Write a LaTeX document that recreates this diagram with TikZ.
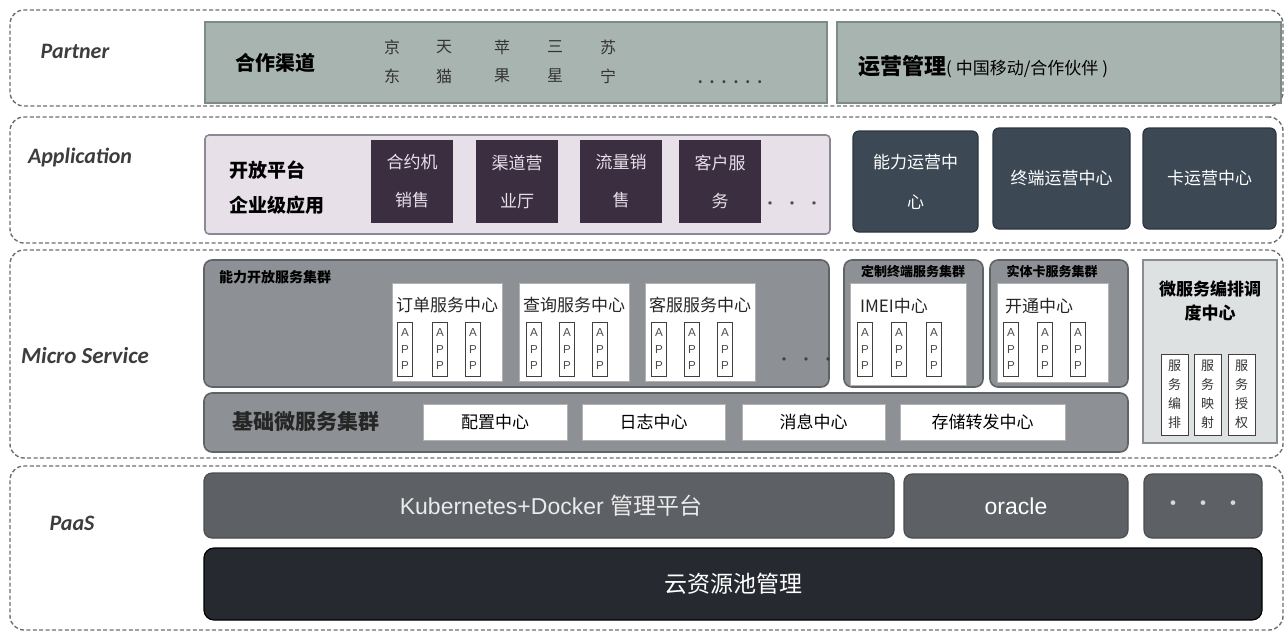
\documentclass[tikz,border=0pt]{standalone}
\usepackage{fontspec}
\setmainfont{Noto Sans CJK SC}
\newfontfamily\labfont{Carlito}
\newfontfamily\latfont{Liberation Sans}
\definecolor{pfill}{HTML}{A8B4B0}
\definecolor{pborder}{HTML}{7E8A86}
\definecolor{afill}{HTML}{E7E0E9}
\definecolor{abord}{HTML}{8D8893}
\definecolor{purc}{HTML}{3B2E40}
\definecolor{purtext}{HTML}{E8E0EA}
\definecolor{slatec}{HTML}{3C4853}
\definecolor{slated}{HTML}{2C3640}
\definecolor{mgc}{HTML}{8D9095}
\definecolor{mgd}{HTML}{5F6267}
\definecolor{orchc}{HTML}{DEE1E2}
\definecolor{orchd}{HTML}{8A8D90}
\definecolor{k8sc}{HTML}{5D6064}
\definecolor{k8sd}{HTML}{4A4D50}
\definecolor{cloudc}{HTML}{262A30}
\definecolor{bandc}{HTML}{6E6E6E}
\definecolor{labc}{HTML}{3D3D3D}
\newcommand\fs[2]{\fontsize{#1}{#2}\selectfont}
\newcommand\bx[7]{\node[#6,minimum width={((#4)-(#2))*0.5pt},minimum height={((#5)-(#3))*0.5pt}] (#1) at ({((#2)+(#4))/2},{((#3)+(#5))/2}) {#7};}
\begin{document}
\begin{tikzpicture}[x=0.5pt,y=-0.5pt,
  base/.style={inner sep=0pt,outer sep=0pt,align=center},
  band/.style={base,draw=bandc,line width=0.7pt,dash pattern=on 2pt off 1.2pt,rounded corners=7pt},
  lab/.style={font=\labfont\bfseries\itshape\fs{11}{13},text=labc},
  pbox/.style={base,draw=pborder,fill=pfill,line width=0.8pt},
  apink/.style={base,draw=abord,fill=afill,line width=0.8pt,rounded corners=2pt},
  purp/.style={base,fill=purc,text=purtext,font=\fs{8.5}{19}},
  slate/.style={base,fill=slatec,draw=slated,line width=0.6pt,rounded corners=3pt,text=white,font=\fs{8.5}{20}},
  mgrey/.style={base,fill=mgc,draw=mgd,line width=0.8pt,rounded corners=4pt},
  wbox/.style={base,fill=white,draw=gray!60,line width=0.4pt},
  appbox/.style={base,fill=white,draw=black!75,line width=0.5pt,font=\latfont\fs{5.8}{8.3},text=black!70},
  vbox/.style={base,fill=white,draw=black!75,line width=0.5pt,font=\fs{6.5}{9.5},text=black!80},
  orch/.style={base,fill=orchc,draw=orchd,line width=0.8pt},
  k8s/.style={base,fill=k8sc,draw=k8sd,line width=0.6pt,rounded corners=4pt,text=white},
  cloud/.style={base,fill=cloudc,draw=black,line width=0.6pt,rounded corners=5pt,text=white},
  ttl/.style={font=\fs{8.5}{10},text=black!85},
  ctitle/.style={font=\bfseries\fs{6.5}{8},text=black}
]
\useasboundingbox (0,0) rectangle (1288,633);

% ---------------- Partner
\bx{bandP}{10}{10}{1283}{106}{band}{}
\node[lab] (labP) at (75,51) {Partner};
\bx{chan}{205}{22}{827}{103}{pbox}{}
\node[anchor=west,font=\bfseries\fs{10}{12}] (chanT) at (228,63) {合作渠道};
\foreach \n/\x/\a/\b in {jd/392/京/东,tm/444/天/猫,ap/502/苹/果,ss/555/三/星,sn/608/苏/宁}{
  \node[font=\fs{8}{10},text=black!80] (\n1) at (\x,47) {\a};
  \node[font=\fs{8}{10},text=black!80] (\n2) at (\x,76) {\b};
}
\node[font=\bfseries\fs{7}{8},text=black!75] (chdots) at (730,82) {.\hspace{3.5pt}.\hspace{3.5pt}.\hspace{3.5pt}.\hspace{3.5pt}.\hspace{3.5pt}.};
\bx{ops}{837}{22}{1281}{103}{pbox}{}
\node[anchor=west] (opsT) at (851,67) {\bfseries\fs{11}{13}运营管理\mdseries\fs{8.5}{10}(\hspace{2pt}中国移动/合作伙伴\hspace{2pt})};

% ---------------- Application
\bx{bandA}{10}{117}{1283}{243}{band}{}
\node[lab] (labA) at (80,157) {Application};
\bx{open}{205}{135}{830}{234}{apink}{}
\node[anchor=west,font=\bfseries\fs{9.5}{12}] (openT1) at (222,170) {开放平台};
\node[anchor=west,font=\bfseries\fs{9.5}{12}] (openT2) at (222,205) {企业级应用};
\bx{pa}{371}{140}{453}{223}{purp}{合约机\\销售}
\bx{pb}{476}{140}{558}{223}{purp}{渠道营\\业厅}
\bx{pc}{580}{140}{662}{223}{purp}{流量销\\售}
\bx{pd}{679}{140}{761}{223}{purp}{客户服\\务}
\node[font=\fs{8}{9},text=black!70] (adots) at (792,206) {•\hspace{3pt}•\hspace{3pt}•};
\bx{sa}{853}{131}{978}{232}{slate}{能力运营中\\心}
\bx{sb}{993}{128}{1130}{229}{slate}{终端运营中心}
\bx{sc}{1143}{128}{1276}{229}{slate}{卡运营中心}

% ---------------- Micro Service
\bx{bandM}{10}{250}{1283}{458}{band}{}
\node[lab,font=\labfont\itshape\bfseries\fs{11.5}{13}] (labM) at (85,356) {Micro Service};
\bx{cap}{204}{260}{829}{387}{mgrey}{}
\node[anchor=west,ctitle,font=\bfseries\fs{7}{8}] (capT) at (212,277) {能力开放服务集群};
\bx{ord}{392}{283}{502}{381}{wbox}{}
\node[ttl] (ordT) at (447,305) {订单服务中心};
\bx{qry}{519}{283}{629}{381}{wbox}{}
\node[ttl] (qryT) at (574,305) {查询服务中心};
\bx{csv}{645}{283}{755}{381}{wbox}{}
\node[ttl] (csvT) at (700,305) {客服服务中心};
\foreach \n/\x in {a/405,b/440,c/473}{\bx{ordA\n}{\x-7.5}{322}{\x+7.5}{376}{appbox}{A\\P\\P}}
\foreach \n/\x in {a/534,b/567,c/600}{\bx{qryA\n}{\x-7.5}{322}{\x+7.5}{376}{appbox}{A\\P\\P}}
\foreach \n/\x in {a/659,b/692,c/725}{\bx{csvA\n}{\x-7.5}{322}{\x+7.5}{376}{appbox}{A\\P\\P}}
\node[font=\fs{8}{9},text=black!75] (mdots) at (806,362) {•\hspace{3pt}•\hspace{3pt}•};

\bx{term}{844}{260}{983}{387}{mgrey}{}
\node[ctitle] (termT) at (913,271) {定制终端服务集群};
\bx{imei}{850}{283}{966}{385}{wbox}{}
\node[anchor=west,ttl] (imeiT) at (853,306) {IMEI中心};
\foreach \n/\x in {a/865,b/899,c/934}{\bx{imeiA\n}{\x-7.5}{322}{\x+7.5}{376}{appbox}{A\\P\\P}}

\bx{card}{990}{260}{1128}{387}{mgrey}{}
\node[ctitle] (cardT) at (1052,271) {实体卡服务集群};
\bx{kt}{997}{283}{1108}{382}{wbox}{}
\node[anchor=west,ttl] (ktT) at (998,306) {开通中心};
\foreach \n/\x in {a/1011,b/1045,c/1078}{\bx{ktA\n}{\x-7.5}{322}{\x+7.5}{376}{appbox}{A\\P\\P}}

\bx{basic}{204}{393}{1128}{452}{mgrey}{}
\node[font=\bfseries\fs{10.5}{12},text=black!85] (basicT) at (306,421) {基础微服务集群};
\bx{cfg}{423}{404}{567}{440}{wbox,font=\fs{8.5}{10}}{配置中心}
\bx{log}{582}{404}{725}{440}{wbox,font=\fs{8.5}{10}}{日志中心}
\bx{msg}{742}{404}{885}{440}{wbox,font=\fs{8.5}{10}}{消息中心}
\bx{sto}{900}{404}{1065}{440}{wbox,font=\fs{8.5}{10}}{存储转发中心}

\bx{orc}{1143}{260}{1277}{443}{orch}{}
\node[font=\bfseries\fs{8.5}{12},align=center] (orcT) at (1210,301) {微服务编排调\\度中心};
\bx{va}{1161}{354}{1188}{435}{vbox}{服\\务\\编\\排}
\bx{vb}{1194}{354}{1221}{435}{vbox}{服\\务\\映\\射}
\bx{vc}{1228}{354}{1255}{435}{vbox}{服\\务\\授\\权}

% ---------------- PaaS
\bx{bandS}{10}{466}{1283}{630}{band}{}
\node[lab] (labS) at (72,523) {PaaS};
\bx{k8}{204}{473}{894}{538}{k8s}{}
\node[text=white!92!black] (k8T) at (551,506) {\latfont\fs{11.5}{13}Kubernetes+Docker \fs{11.5}{13}\rmfamily 管理平台};
\bx{ora}{904}{474}{1128}{538}{k8s,font=\latfont\fs{11.5}{13}}{oracle}
\bx{more}{1144}{474}{1262}{538}{k8s,font=\fs{11}{12},text=white!85!black}{•\hspace{4pt}•\hspace{4pt}•}
\bx{pool}{204}{548}{1262}{620}{cloud,font=\fs{11.5}{13}}{云资源池管理}
\end{tikzpicture}
\end{document}
